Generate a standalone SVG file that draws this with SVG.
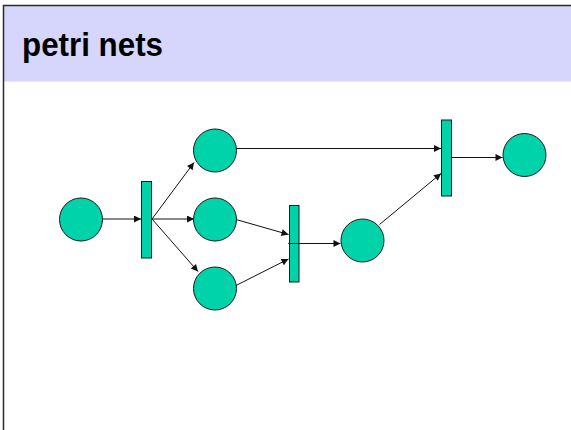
<svg xmlns="http://www.w3.org/2000/svg" width="571" height="430" viewBox="0 0 571 430">
  <style>
    .place { fill: #00d2aa; stroke: #1a1a1a; stroke-width: 1; }
    .trans { fill: #00d2aa; stroke: #1a1a1a; stroke-width: 1; }
    .arc { stroke: #111; stroke-width: 1; fill: none; marker-end: url(#head); }
    .title { font-family: "Liberation Sans", Arial, sans-serif; font-weight: bold; font-size: 32.5px; fill: #000; }
  </style>
  <defs>
    <marker id="head" viewBox="0 0 10 10" refX="10" refY="5" markerWidth="9" markerHeight="7" markerUnits="userSpaceOnUse" orient="auto">
      <path d="M0,0 L10,5 L0,10 z" fill="#111"/>
    </marker>
  </defs>

  <!-- slide background and header band -->
  <rect x="0" y="0" width="571" height="430" fill="#ffffff"/>
  <rect x="3.5" y="5.5" width="570" height="76" fill="#d6d6fc"/>
  <path d="M3.5,432 V5.5 H572" fill="none" stroke="#2a2a2a" stroke-width="1.5"/>
  <text class="title" x="22" y="56" textLength="141" lengthAdjust="spacingAndGlyphs">petri nets</text>

  <!-- connectors -->
  <g id="arcs">
    <line class="arc" x1="102.5" y1="219" x2="141" y2="219"/>
    <line class="arc" x1="152" y1="219" x2="194" y2="162.5"/>
    <line class="arc" x1="152" y1="219" x2="194" y2="219"/>
    <line class="arc" x1="152" y1="219" x2="198" y2="271.5"/>
    <line class="arc" x1="236" y1="148.5" x2="441" y2="148.5"/>
    <line class="arc" x1="236" y1="219.5" x2="288.5" y2="234.5"/>
    <line class="arc" x1="236" y1="285.5" x2="288.5" y2="259"/>
    <line class="arc" x1="288.5" y1="243.5" x2="340.5" y2="243.5"/>
    <line class="arc" x1="379.5" y1="224.5" x2="441" y2="173.5"/>
    <line class="arc" x1="451" y1="157.5" x2="502.5" y2="157.5"/>
  </g>

  <!-- places -->
  <g id="p1"><circle class="place" cx="81" cy="219.5" r="21.5"/></g>
  <g id="p2"><circle class="place" cx="215" cy="150.5" r="21.5"/></g>
  <g id="p3"><circle class="place" cx="215" cy="219.5" r="21.5"/></g>
  <g id="p4"><circle class="place" cx="215" cy="288.5" r="21.5"/></g>
  <g id="p5"><circle class="place" cx="362.5" cy="240.5" r="21.5"/></g>
  <g id="p6"><circle class="place" cx="524.5" cy="155" r="21.5"/></g>

  <!-- transitions -->
  <g id="t1"><rect class="trans" x="141.5" y="181.5" width="10" height="76.5"/></g>
  <g id="t2"><rect class="trans" x="289.5" y="205.5" width="9.5" height="76.5"/></g>
  <g id="t3"><rect class="trans" x="441.5" y="120" width="10" height="76"/></g>

  <!-- arc through t2 drawn over the bar -->
  <line x1="288.5" y1="243.5" x2="299" y2="243.5" stroke="#111" stroke-width="1"/>
</svg>
